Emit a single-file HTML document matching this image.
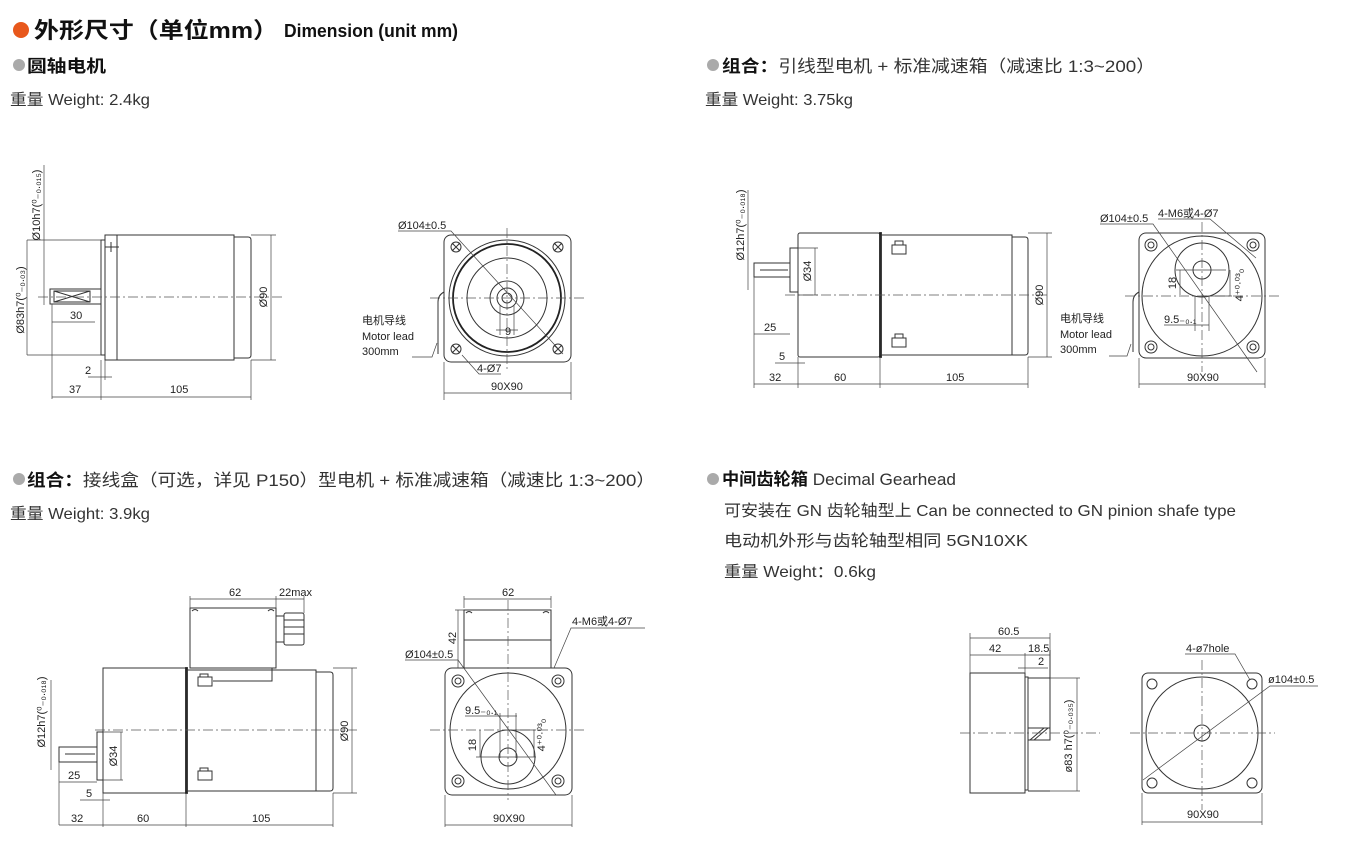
<!DOCTYPE html>
<html><head><meta charset="utf-8"><style>
html,body{margin:0;padding:0;background:#fff;width:1348px;height:861px;overflow:hidden}
svg{display:block}
.l{fill:none;stroke:#333;stroke-width:1}
.k{fill:none;stroke:#222;stroke-width:1.8}
.d{fill:none;stroke:#444;stroke-width:0.7}
.c{fill:none;stroke:#555;stroke-width:0.7;stroke-dasharray:10 3 2 3}
.t{font-family:"Liberation Sans","Noto Sans CJK SC",sans-serif;font-size:11px;fill:#222}
.h{font-family:"Liberation Sans","Noto Sans CJK SC",sans-serif;fill:#111}
.w{font-family:"Liberation Sans","Noto Sans CJK SC",sans-serif;fill:#333}
</style></head><body>
<svg width="1348" height="861" viewBox="0 0 1348 861" xmlns="http://www.w3.org/2000/svg">
<!-- Header -->
<circle cx="21" cy="30" r="8" fill="#e8581c"/>
<text class="h" x="34" y="38" font-size="22" font-weight="bold" textLength="244" lengthAdjust="spacingAndGlyphs">外形尺寸（单位mm）</text>
<text class="h" x="284" y="37" font-size="18" font-weight="bold" textLength="174" lengthAdjust="spacingAndGlyphs">Dimension (unit mm)</text>

<circle cx="19" cy="65" r="6" fill="#aaa"/>
<text class="h" x="27" y="72" font-size="17" font-weight="bold" textLength="79" lengthAdjust="spacingAndGlyphs">圆轴电机</text>
<text class="w" x="10" y="105" font-size="16" textLength="140" lengthAdjust="spacingAndGlyphs">重量 Weight: 2.4kg</text>

<circle cx="713" cy="65" r="6" fill="#aaa"/>
<text class="w" x="722" y="72" font-size="17" textLength="433" lengthAdjust="spacingAndGlyphs"><tspan font-weight="bold" fill="#111">组合：</tspan>引线型电机 + 标准减速箱（减速比 1:3~200）</text>
<text class="w" x="705" y="105" font-size="16" textLength="148" lengthAdjust="spacingAndGlyphs">重量 Weight: 3.75kg</text>

<circle cx="19" cy="479" r="6" fill="#aaa"/>
<text class="w" x="27" y="486" font-size="17" textLength="628" lengthAdjust="spacingAndGlyphs"><tspan font-weight="bold" fill="#111">组合：</tspan>接线盒（可选，详见 P150）型电机 + 标准减速箱（减速比 1:3~200）</text>
<text class="w" x="10" y="519" font-size="16" textLength="140" lengthAdjust="spacingAndGlyphs">重量 Weight: 3.9kg</text>

<circle cx="713" cy="479" r="6" fill="#aaa"/>
<text class="w" x="722" y="485" font-size="17" textLength="234" lengthAdjust="spacingAndGlyphs"><tspan font-weight="bold" fill="#111">中间齿轮箱</tspan> Decimal Gearhead</text>
<text class="w" x="724" y="516" font-size="16" textLength="512" lengthAdjust="spacingAndGlyphs">可安装在 GN 齿轮轴型上 Can be connected to GN pinion shafe type</text>
<text class="w" x="724" y="546" font-size="16" textLength="304" lengthAdjust="spacingAndGlyphs">电动机外形与齿轮轴型相同 5GN10XK</text>
<text class="w" x="724" y="577" font-size="16" textLength="152" lengthAdjust="spacingAndGlyphs">重量 Weight：0.6kg</text>

<!-- ===== Drawing 1: side ===== -->
<g>
<rect class="l" x="50" y="289" width="51" height="15"/>
<rect class="l" x="54" y="291" width="36" height="11"/>
<path class="l" d="M54 291 L90 302 M54 302 L90 291"/>
<rect class="l" x="101" y="240" width="4" height="115"/>
<rect class="l" x="105" y="235" width="12" height="125"/>
<path class="l" d="M105 247h14 M111 242v10"/>
<rect class="l" x="117" y="235" width="117" height="125"/>
<path class="l" d="M234 237h14q3 0 3 3v115q0 3-3 3h-14"/>
<path class="c" d="M38 297H285"/>
<!-- dims -->
<path class="d" d="M251 235h25 M251 360h25 M271 235v125"/>
<text class="t" transform="translate(267 297) rotate(-90)" text-anchor="middle">Ø90</text>
<path class="d" d="M27 240v115 M27 240h74 M27 355h74"/>
<text class="t" transform="translate(24 300) rotate(-90)" text-anchor="middle" font-size="10">Ø83h7(⁰₋₀.₀₃)</text>
<path class="d" d="M44 165v140"/>
<text class="t" transform="translate(40 205) rotate(-90)" text-anchor="middle" font-size="10">Ø10h7(⁰₋₀.₀₁₅)</text>
<path class="d" d="M52 304v20 M52 322h43"/>
<text class="t" x="70" y="319">30</text>
<path class="d" d="M88 377h24 M101 360v40 M105 360v20"/>
<text class="t" x="85" y="374">2</text>
<path class="d" d="M52 324v75 M251 360v40 M52 397h199"/>
<text class="t" x="69" y="393">37</text>
<text class="t" x="170" y="393">105</text>
</g>
<!-- ===== Drawing 1: front ===== -->
<g>
<rect class="l" x="444" y="235" width="127" height="127" rx="7"/>
<circle class="l" cx="507" cy="298" r="58"/>
<circle class="k" cx="507" cy="298" r="54"/>
<circle class="l" cx="507" cy="298" r="40"/>
<circle class="l" cx="507" cy="298" r="17"/>
<circle class="l" cx="507" cy="298" r="10"/>
<circle class="l" cx="507" cy="298" r="5"/>
<g class="l">
<circle cx="456" cy="247" r="5"/><path d="M452 243l8 8M460 243l-8 8"/>
<circle cx="558" cy="247" r="5"/><path d="M554 243l8 8M562 243l-8 8"/>
<circle cx="456" cy="349" r="5"/><path d="M452 345l8 8M460 345l-8 8"/>
<circle cx="558" cy="349" r="5"/><path d="M554 345l8 8M562 345l-8 8"/>
</g>
<path class="c" d="M507 228V372 M430 298H585"/>
<path class="d" d="M398 231h53 L563 354"/>
<text class="t" x="398" y="229">Ø104±0.5</text>
<path class="d" d="M500 305v30 M514 305v30 M496 330h22"/>
<text class="t" x="505" y="335">9</text>
<path class="d" d="M462 355l17 19h22"/>
<text class="t" x="477" y="372">4-Ø7</text>
<path class="l" d="M444 292q-6 3-6 10v52" stroke-width="2"/>
<path class="d" d="M412 357h20l5-14"/>
<text class="t" x="362" y="324" font-size="12">电机导线</text>
<text class="t" x="362" y="340" font-size="12">Motor lead</text>
<text class="t" x="362" y="355" font-size="12">300mm</text>
<path class="d" d="M444 362v38 M571 362v38 M444 393h127"/>
<text class="t" x="491" y="390">90X90</text>
</g>

<!-- ===== Drawing 2: side ===== -->
<g>
<rect class="l" x="754" y="263" width="36" height="14"/>
<path class="l" d="M760 270h28"/>
<rect class="l" x="790" y="248" width="8" height="44"/>
<rect class="l" x="798" y="233" width="82" height="124" rx="2"/>
<rect class="k" x="880" y="233" width="1" height="124"/>
<rect class="l" x="881" y="235" width="131" height="120"/>
<path class="l" d="M1012 237h13q3 0 3 3v112q0 3-3 3h-13"/>
<path class="l" d="M892 245h14v9h-14z M895 245v-4h8v4 M892 338h14v9h-14z M895 338v-4h8v4"/>
<path class="c" d="M785 295H1050"/>
<path class="d" d="M1028 233h24 M1028 357h24 M1047 233v124"/>
<text class="t" transform="translate(1043 295) rotate(-90)" text-anchor="middle">Ø90</text>
<path class="d" d="M798 248h20 M798 295h20 M815 248v47"/>
<text class="t" transform="translate(811 271) rotate(-90)" text-anchor="middle">Ø34</text>
<path class="d" d="M748 190v100"/>
<text class="t" transform="translate(744 225) rotate(-90)" text-anchor="middle" font-size="10">Ø12h7(⁰₋₀.₀₁₈)</text>
<path class="d" d="M754 277v60 M754 334h36"/>
<text class="t" x="764" y="331">25</text>
<path class="d" d="M775 363h30"/>
<text class="t" x="779" y="360">5</text>
<path class="d" d="M754 337v51 M798 357v31 M880 357v31 M1028 357v31 M754 384h274"/>
<text class="t" x="769" y="381">32</text>
<text class="t" x="834" y="381">60</text>
<text class="t" x="946" y="381">105</text>
</g>
<!-- ===== Drawing 2: front ===== -->
<g>
<rect class="l" x="1139" y="233" width="126" height="125" rx="7"/>
<circle class="l" cx="1202" cy="296" r="60"/>
<circle class="l" cx="1202" cy="270" r="27"/>
<circle class="l" cx="1202" cy="270" r="9"/>
<g class="l">
<circle cx="1151" cy="245" r="6"/><circle cx="1151" cy="245" r="3"/>
<circle cx="1253" cy="245" r="6"/><circle cx="1253" cy="245" r="3"/>
<circle cx="1151" cy="347" r="6"/><circle cx="1151" cy="347" r="3"/>
<circle cx="1253" cy="347" r="6"/><circle cx="1253" cy="347" r="3"/>
</g>
<path class="c" d="M1202 222V372 M1125 296H1280"/>
<path class="d" d="M1100 224h53 L1257 372"/>
<text class="t" x="1100" y="222">Ø104±0.5</text>
<path class="d" d="M1158 219h52 L1256 258"/>
<text class="t" x="1158" y="217">4-M6或4-Ø7</text>
<path class="d" d="M1180 270v25 M1176 270h50 M1202 296h30 M1230 270v26"/>
<text class="t" transform="translate(1176 283) rotate(-90)" text-anchor="middle">18</text>
<text class="t" transform="translate(1243 285) rotate(-90)" text-anchor="middle" font-size="10">4⁺⁰·⁰³₀</text>
<path class="d" d="M1195 296v35 M1209 296v35 M1164 325h45"/>
<text class="t" x="1164" y="323">9.5₋₀.₁</text>
<path class="l" d="M1139 292q-6 3-6 10v50" stroke-width="2"/>
<path class="d" d="M1109 356h18l4-12"/>
<text class="t" x="1060" y="322" font-size="12">电机导线</text>
<text class="t" x="1060" y="338" font-size="12">Motor lead</text>
<text class="t" x="1060" y="353" font-size="12">300mm</text>
<path class="d" d="M1139 358v30 M1265 358v30 M1139 384h126"/>
<text class="t" x="1187" y="381">90X90</text>
</g>

<!-- ===== Drawing 3: side ===== -->
<g>
<rect class="l" x="190" y="608" width="86" height="60"/>
<path class="l" d="M192 611q3-3 6 0 M268 611q3-3 6 0"/>
<rect class="l" x="276" y="616" width="8" height="26"/>
<rect class="l" x="284" y="613" width="20" height="32" rx="2"/>
<path class="l" d="M284 620h20 M284 627h20 M284 634h20"/>
<rect class="l" x="59" y="747" width="38" height="15"/>
<path class="l" d="M65 754h30"/>
<rect class="l" x="97" y="732" width="6" height="48"/>
<rect class="l" x="103" y="668" width="83" height="125"/>
<rect class="k" x="186" y="668" width="1" height="125"/>
<rect class="l" x="187" y="670" width="129" height="121"/>
<path class="l" d="M316 672h14q3 0 3 3v113q0 3-3 3h-14"/>
<path class="l" d="M198 677h14v9h-14z M200 677v-3h8v3 M198 771h14v9h-14z M200 771v-3h8v3"/>
<path class="l" d="M213 681h59v-13"/>
<path class="c" d="M95 730H360"/>
<path class="d" d="M190 608v-12 M276 608v-12 M304 613v-17 M190 599h114"/>
<text class="t" x="229" y="596">62</text>
<text class="t" x="279" y="596" font-size="9">22max</text>
<path class="d" d="M333 668h24 M333 793h24 M352 668v125"/>
<text class="t" transform="translate(348 731) rotate(-90)" text-anchor="middle">Ø90</text>
<path class="d" d="M103 732h20 M103 780h20 M121 732v48"/>
<text class="t" transform="translate(117 756) rotate(-90)" text-anchor="middle">Ø34</text>
<path class="d" d="M51 680v90"/>
<text class="t" transform="translate(45 712) rotate(-90)" text-anchor="middle" font-size="10">Ø12h7(⁰₋₀.₀₁₈)</text>
<path class="d" d="M59 762v63 M59 782h38"/>
<text class="t" x="68" y="779">25</text>
<path class="d" d="M80 800h30"/>
<text class="t" x="86" y="797">5</text>
<path class="d" d="M103 793v34 M186 793v34 M333 793v34 M59 825h274"/>
<text class="t" x="71" y="822">32</text>
<text class="t" x="137" y="822">60</text>
<text class="t" x="252" y="822">105</text>
</g>
<!-- ===== Drawing 3: front ===== -->
<g>
<rect class="l" x="464" y="610" width="87" height="58"/>
<path class="l" d="M464 640h87 M466 613q3-3 6 0 M543 613q3-3 6 0"/>
<rect class="l" x="445" y="668" width="127" height="127" rx="7"/>
<circle class="l" cx="508" cy="731" r="58"/>
<circle class="l" cx="508" cy="757" r="27"/>
<circle class="l" cx="508" cy="757" r="9"/>
<g class="l">
<circle cx="458" cy="681" r="6"/><circle cx="458" cy="681" r="3"/>
<circle cx="558" cy="681" r="6"/><circle cx="558" cy="681" r="3"/>
<circle cx="458" cy="781" r="6"/><circle cx="458" cy="781" r="3"/>
<circle cx="558" cy="781" r="6"/><circle cx="558" cy="781" r="3"/>
</g>
<path class="c" d="M508 600V800 M430 730H585"/>
<path class="d" d="M464 608v-12 M551 608v-12 M464 599h87"/>
<text class="t" x="502" y="596">62</text>
<path class="d" d="M458 610v58 M455 610h9"/>
<text class="t" transform="translate(456 638) rotate(-90)" text-anchor="middle">42</text>
<path class="d" d="M405 660h53 L556 795"/>
<text class="t" x="405" y="658">Ø104±0.5</text>
<path class="d" d="M645 628h-74 L554 668"/>
<text class="t" x="572" y="625">4-M6或4-Ø7</text>
<path class="d" d="M500 713v45 M516 713v45 M465 716h52"/>
<text class="t" x="465" y="714">9.5₋₀.₁</text>
<path class="d" d="M480 730v27 M476 757h60 M508 730h28 M534 730v27"/>
<text class="t" transform="translate(476 745) rotate(-90)" text-anchor="middle">18</text>
<text class="t" transform="translate(545 735) rotate(-90)" text-anchor="middle" font-size="10">4⁺⁰·⁰³₀</text>
<path class="d" d="M445 795v32 M572 795v32 M445 825h127"/>
<text class="t" x="493" y="822">90X90</text>
</g>

<!-- ===== Drawing 4: side ===== -->
<g>
<rect class="l" x="970" y="673" width="55" height="120"/>
<rect class="l" x="1025" y="677" width="3" height="113"/>
<path class="l" d="M1028 678h22 M1028 791h22 M1050 650v90"/>
<path class="l" d="M1028 728h22v12h-22z M1030 740l14-12 M1034 740l14-12"/>
<path class="c" d="M960 733H1100"/>
<path class="d" d="M970 673v-40 M1050 650v-17 M1025 673v-20 M970 638h80 M970 655h80"/>
<text class="t" x="998" y="635">60.5</text>
<text class="t" x="989" y="652">42</text>
<text class="t" x="1028" y="652">18.5</text>
<path class="d" d="M1018 668h30"/>
<text class="t" x="1038" y="665">2</text>
<path class="d" d="M1050 678h30 M1050 791h30 M1077 678v113"/>
<text class="t" transform="translate(1072 736) rotate(-90)" text-anchor="middle" font-size="10">ø83 h7(⁰₋₀.₀₃₅)</text>
</g>
<!-- ===== Drawing 4: front ===== -->
<g>
<rect class="l" x="1142" y="673" width="120" height="120" rx="6"/>
<circle class="l" cx="1202" cy="733" r="56"/>
<circle class="l" cx="1202" cy="733" r="8"/>
<g class="l">
<circle cx="1152" cy="684" r="5"/><circle cx="1252" cy="684" r="5"/>
<circle cx="1152" cy="783" r="5"/><circle cx="1252" cy="783" r="5"/>
</g>
<path class="c" d="M1202 660V810 M1130 733H1275"/>
<path class="d" d="M1143 780 L1270 686h48"/>
<text class="t" x="1268" y="683">ø104±0.5</text>
<path class="d" d="M1185 654h50 L1250 680"/>
<text class="t" x="1186" y="652">4-ø7hole</text>
<path class="d" d="M1142 793v32 M1262 793v32 M1142 822h120"/>
<text class="t" x="1187" y="818">90X90</text>
</g>
</svg>
</body></html>
